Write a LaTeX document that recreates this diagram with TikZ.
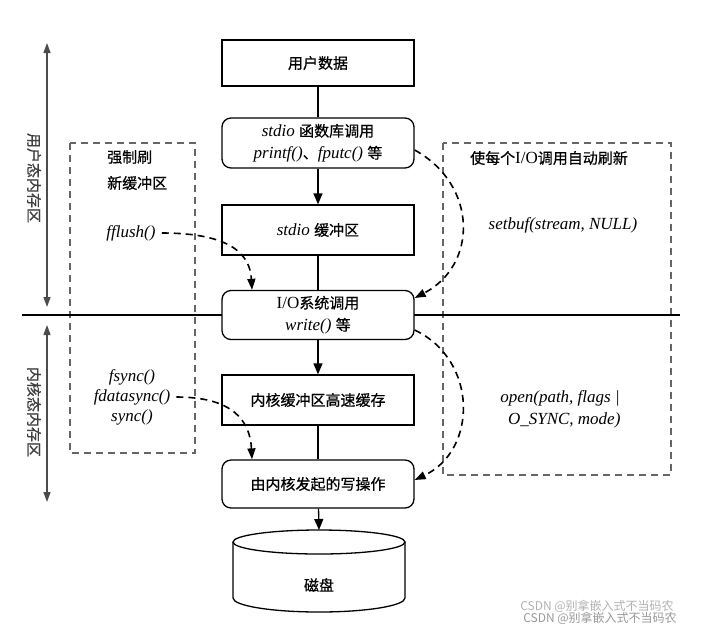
\documentclass[tikz,border=0pt]{standalone}
\usepackage{fontspec}
\setmainfont{Liberation Serif}
\newfontfamily\cjk{Noto Sans CJK SC}[FakeBold=0.6]
\newfontfamily\cjkwm{Noto Sans CJK SC}
\newcommand\zh[1]{{\cjk\fontsize{15}{22}\selectfont #1}}
\usetikzlibrary{arrows.meta}
\begin{document}
\begin{tikzpicture}[x=1pt,y=-1pt,
  box/.style={draw, line width=1.3pt, fill=white, minimum width=192pt, inner sep=0pt, align=center, font=\fontsize{17}{22}\selectfont},
  rbox/.style={box, rounded corners=9pt},
  flow/.style={line width=1.3pt},
  flowarrow/.style={flow, -{Triangle[length=11pt,width=9pt]}},
  dasharr/.style={line width=1.6pt, dash pattern=on 7pt off 5pt, -{Triangle[length=11pt,width=8pt]}},
  region/.style={draw=black!60, line width=1.1pt, dash pattern=on 7pt off 5pt},
  side/.style={draw=black!70, line width=1.3pt, {Triangle[length=10pt,width=7pt]}-{Triangle[length=10pt,width=7pt]}},
  lab/.style={font=\fontsize{17}{20}\selectfont, inner sep=0pt},
]
\useasboundingbox (0,0) rectangle (703,633);

% regions
\draw[region] (70,143) rectangle (195,453);
\draw[region] (443,143) rectangle (671,475);

% boundary line
\coordinate (hl) at (22,315);
\coordinate (hr) at (680,315);
\draw[line width=2.5pt] (hl) -- (hr);

% side arrows
\coordinate (u1) at (47,43);
\coordinate (u2) at (47,307);
\coordinate (k1) at (47,325);
\coordinate (k2) at (47,502);
\draw[side] (u1) -- (u2);
\draw[side] (k1) -- (k2);
\node[lab, rotate=-90, text=black!75] (ulab) at (34,178) {\zh{用户态内存区}};
\node[lab, rotate=-90, text=black!75] (klab) at (34,412) {\zh{内核态内存区}};

% flow boxes
\node[box, minimum height=46pt] (ud) at (318,63) {\zh{用户数据}};
\node[rbox, minimum height=50pt] (lib) at (318,143) {\textit{stdio} \zh{函数库调用}\\\textit{printf()}\zh{、}\textit{fputc()} \zh{等}};
\node[box, minimum height=50pt] (buf) at (318,230) {\textit{stdio} \zh{缓冲区}};
\node[rbox, minimum height=49pt] (io) at (318,315) {I/O\zh{系统调用}\\\textit{write()} \zh{等}};
\node[box, minimum height=50pt] (kbuf) at (318,400) {\zh{内核缓冲区高速缓存}};
\node[rbox, minimum height=48pt] (wop) at (318,484) {\zh{由内核发起的写操作}};

% disk
\coordinate (dtop) at (319,530);
\draw[line width=1.3pt, fill=white] (233,542) -- (233,598) arc[start angle=180, end angle=0, x radius=86, y radius=14] -- (405,542);
\draw[line width=1.3pt] (319,542) ellipse[x radius=86, y radius=12];
\node[lab] (disk) at (319,585) {\zh{磁盘}};

\draw[flow] (ud) -- (lib);
\draw[flowarrow] (lib) -- (buf);
\draw[flow] (buf) -- (io);
\draw[flowarrow] (io) -- (kbuf);
\draw[flow] (kbuf) -- (wop);
\draw[flowarrow] (wop) -- (dtop);

% left region texts
\node[lab, anchor=west] (qz1) at (107,157) {\zh{强制刷}};
\node[lab, anchor=west] (qz2) at (107,183) {\zh{新缓冲区}};
\node[lab] (ff) at (131,233) {\textit{fflush()}};
\node[lab, align=center] (fs) at (132,397) {\textit{fsync()}\\\textit{fdatasync()}\\\textit{sync()}};

% right region texts
\node[lab] (auto) at (549,158) {\zh{使每个}I/O\zh{调用自动刷新}};
\node[lab] (sb) at (563,225) {\textit{setbuf(stream, NULL)}};
\node[lab, align=center, font=\fontsize{17}{22}\selectfont] (op) at (560,409) {\textit{open(path, flags |}\\\textit{\ \ O\_SYNC, mode)}};

% dashed arrows
\draw[dasharr] ([xshift=6pt]ff.east) .. controls (232,233) and (250,255) .. ([xshift=-66pt]io.north);
\draw[dasharr] ([xshift=6pt]fs.east) .. controls (232,397) and (250,420) .. ([xshift=-66pt]wop.north);
\draw[dasharr] ([yshift=-7pt]lib.east) .. controls (478,185) and (478,265) .. ([yshift=17pt]io.east);
\draw[dasharr] ([yshift=-15pt]io.east) .. controls (478,360) and (478,450) .. ([yshift=4pt]wop.east);

% watermark
\node[font=\cjkwm\fontsize{12}{12}\selectfont, text=black!30, inner sep=0pt] (wm1) at (597,606) {CSDN @别拿嵌入式不当码农};
\node[font=\cjkwm\fontsize{12}{12}\selectfont, text=black!40, inner sep=0pt] (wm2) at (600,618) {CSDN @别拿嵌入式不当码农};
\end{tikzpicture}
\end{document}
